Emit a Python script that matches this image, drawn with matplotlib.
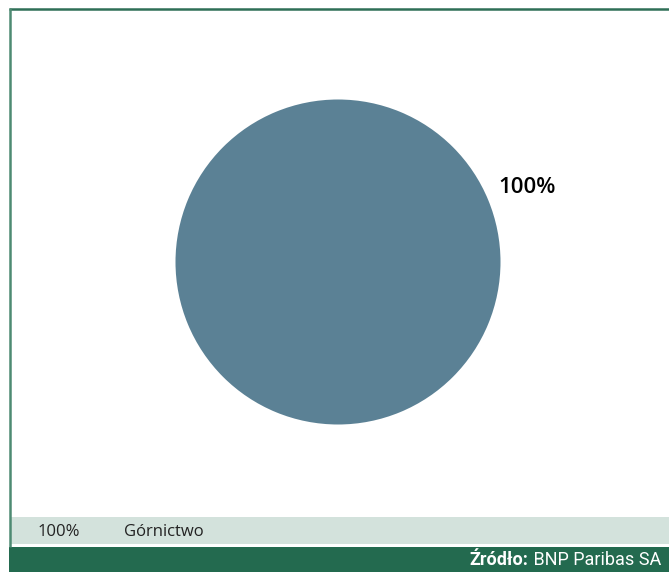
import matplotlib
matplotlib.use("Agg")
import matplotlib.pyplot as plt
from matplotlib.patches import Rectangle
from matplotlib.lines import Line2D

categories = ["Górnictwo"]
values = [100]
pie_colors = ["#5b8195"]
source_bold = "Źródło:"
source_text = " BNP Paribas SA"

W, H = 669, 572
fig = plt.figure(figsize=(W / 100, H / 100), dpi=100)
fig.patch.set_facecolor("white")

def fx(px):
    return px / W

def fy(py):
    return 1 - py / H

# frame lines
fig.add_artist(Line2D([fx(9), fx(669)], [fy(8.5), fy(8.5)], color="#2f6f57", lw=1.8,
                      solid_capstyle="butt"))
fig.add_artist(Line2D([fx(9.5), fx(9.5)], [fy(8), fy(547)], color="#4d8a72", lw=1.8,
                      solid_capstyle="butt"))

# legend band
fig.add_artist(Rectangle((fx(10), fy(544)), fx(659), (544 - 517) / H,
                         transform=fig.transFigure, facecolor="#d3e2dc", edgecolor="none"))
# footer band
fig.add_artist(Rectangle((fx(9), 0), fx(660), (572 - 547) / H,
                         transform=fig.transFigure, facecolor="#236a4f", edgecolor="none"))

# pie
r = 162.5
cx, cy = 338, 262
ax = fig.add_axes([fx(cx - r), fy(cy + r), 2 * r / W, 2 * r / H])
ax.pie(values, colors=pie_colors, radius=1, startangle=-158.5,
       autopct=lambda p: f"{p:.0f}%", pctdistance=1.25,
       textprops=dict(fontsize=16, color="black", family=["Open Sans", "DejaVu Sans"], weight="semibold"),
       wedgeprops=dict(linewidth=0))
ax.set_xlim(-1, 1)
ax.set_ylim(-1, 1)
ax.set_aspect("equal")
ax.axis("off")

# legend text
fig.text(fx(38), fy(532), f"{values[0]}%", fontsize=12, color="#222222",
         va="center", ha="left", family=["Open Sans", "DejaVu Sans"])
fig.text(fx(124), fy(532), categories[0], fontsize=12, color="#222222",
         va="center", ha="left", family=["Open Sans", "DejaVu Sans"])

# source text
t2 = fig.text(fx(661), fy(560), source_text, fontsize=13, color="white",
              va="center", ha="right", family=["Roboto", "DejaVu Sans"])
fig.canvas.draw()
bb = t2.get_window_extent()
fig.text(bb.x0 / W, fy(560), source_bold, fontsize=13, color="white", weight="bold",
         va="center", ha="right", family=["Roboto", "DejaVu Sans"])

fig.savefig("out.png", dpi=100)
